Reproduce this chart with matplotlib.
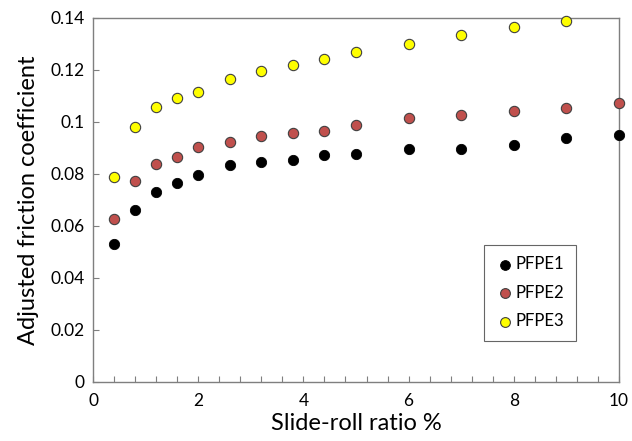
import matplotlib
matplotlib.use("Agg")
import matplotlib.pyplot as plt

plt.rcParams['font.family'] = ['Lato', 'DejaVu Sans']

# Slide-roll ratio (%) at each measurement
x_main = [0.4, 0.8, 1.2, 1.6, 2.0, 2.6, 3.2, 3.8, 4.4, 5.0, 6.0, 7.0, 8.0, 9.0, 10.0]
x_pfpe3 = [0.4, 0.8, 1.2, 1.6, 2.0, 2.6, 3.2, 3.8, 4.4, 5.0, 6.0, 7.0, 8.0, 9.0]

# Adjusted friction coefficient per lubricant
pfpe1 = [0.0531, 0.0663, 0.0732, 0.0765, 0.0795, 0.0835, 0.0846, 0.0854, 0.0872,
         0.0876, 0.0896, 0.0896, 0.0910, 0.0938, 0.0949]
pfpe2 = [0.0628, 0.0774, 0.0837, 0.0865, 0.0904, 0.0924, 0.0946, 0.0959, 0.0965,
         0.0990, 0.1014, 0.1028, 0.1042, 0.1053, 0.1073]
pfpe3 = [0.0788, 0.0980, 0.1057, 0.1094, 0.1115, 0.1167, 0.1195, 0.1219, 0.1244,
         0.1268, 0.1299, 0.1335, 0.1365, 0.1390]

x_ticks = [0, 2, 4, 6, 8, 10]
x_minor = [0.4 * i for i in range(26)]
y_ticks = [0, 0.02, 0.04, 0.06, 0.08, 0.1, 0.12, 0.14]
y_labels = ['0', '0.02', '0.04', '0.06', '0.08', '0.1', '0.12', '0.14']

fig = plt.figure(figsize=(6.32, 4.41), dpi=100)
ax = fig.add_axes([0.1472, 0.1338, 0.8322, 0.8254])

edge = '#404040'
ax.scatter(x_main, pfpe1, s=55, c='black', edgecolors='black', linewidths=0.6,
           label='PFPE1', zorder=3, clip_on=False)
ax.scatter(x_main, pfpe2, s=55, c='#C0504D', edgecolors=edge, linewidths=0.8,
           label='PFPE2', zorder=3, clip_on=False)
ax.scatter(x_pfpe3, pfpe3, s=55, c='#FFFF00', edgecolors=edge, linewidths=0.8,
           label='PFPE3', zorder=3, clip_on=False)

ax.set_xlim(0, 10)
ax.set_ylim(0, 0.14)
ax.set_xticks(x_ticks)
ax.set_xticklabels([str(v) for v in x_ticks])
ax.set_xticks(x_minor, minor=True)
ax.set_yticks(y_ticks)
ax.set_yticklabels(y_labels)

spine_col = '#7f7f7f'
for s in ax.spines.values():
    s.set_color(spine_col)
    s.set_linewidth(1.0)
ax.tick_params(axis='both', which='both', direction='in', color=spine_col,
               labelsize=12.5, labelcolor='black', length=4, width=0.8)
ax.tick_params(axis='x', pad=8)
ax.tick_params(axis='y', pad=6)

ax.set_xlabel('Slide-roll ratio %', fontsize=17, labelpad=3)
ax.set_ylabel('Adjusted friction coefficient', fontsize=17, labelpad=8)

leg = ax.legend(loc='lower left', bbox_to_anchor=(0.743, 0.1126), fontsize=12,
                frameon=True, fancybox=False, edgecolor='#404040',
                handletextpad=0.1, labelspacing=0.75, borderpad=0.7,
                handlelength=1.1, markerscale=0.95, borderaxespad=0)
leg.get_frame().set_linewidth(0.8)

fig.savefig('out.png', dpi=100)
